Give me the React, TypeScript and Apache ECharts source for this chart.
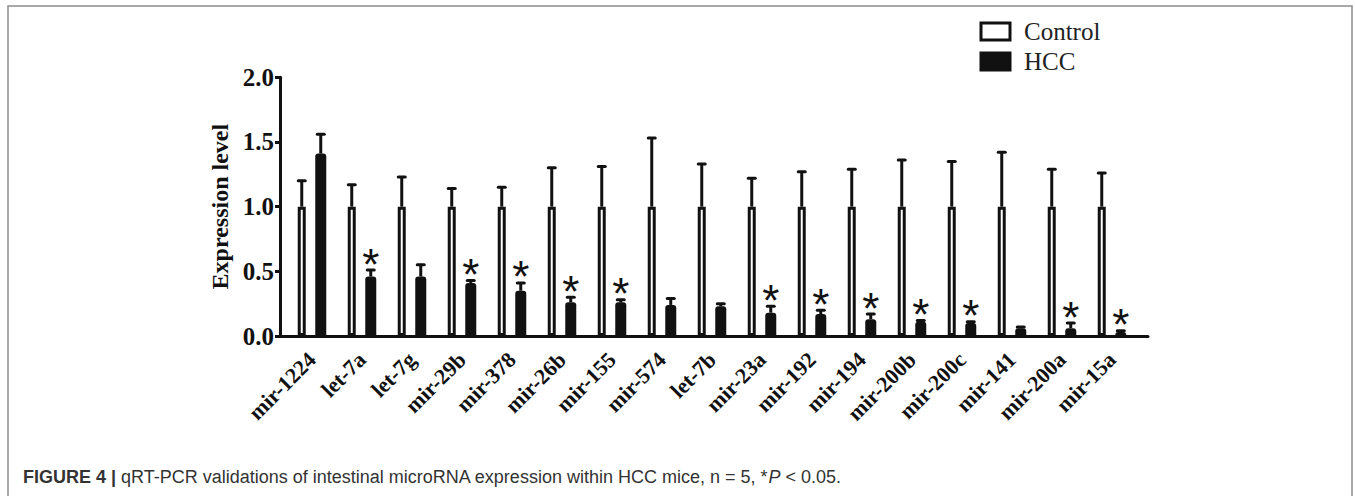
import React, { useEffect, useRef } from "react";
import * as echarts from "echarts";

const categories = [
  "mir-1224", "let-7a", "let-7g", "mir-29b", "mir-378", "mir-26b", "mir-155", "mir-574",
  "let-7b", "mir-23a", "mir-192", "mir-194", "mir-200b", "mir-200c", "mir-141", "mir-200a", "mir-15a",
];
const controlMean = [1, 1, 1, 1, 1, 1, 1, 1, 1, 1, 1, 1, 1, 1, 1, 1, 1];
const controlErr = [0.2, 0.17, 0.23, 0.14, 0.15, 0.3, 0.31, 0.53, 0.33, 0.22, 0.27, 0.29, 0.36, 0.35, 0.42, 0.29, 0.26];
const hccMean = [1.41, 0.46, 0.46, 0.41, 0.35, 0.26, 0.26, 0.24, 0.23, 0.18, 0.17, 0.13, 0.11, 0.1, 0.06, 0.06, 0.03];
const hccErr = [0.15, 0.05, 0.09, 0.02, 0.06, 0.04, 0.02, 0.05, 0.02, 0.05, 0.03, 0.04, 0.01, 0.01, 0.01, 0.04, 0.01];
const hccSignificant = [0, 1, 0, 1, 1, 1, 1, 0, 0, 1, 1, 1, 1, 1, 0, 1, 1];
const controlSignificant = categories.map(() => 0);
const yTicks = { min: 0, max: 2, interval: 0.5 };

const INK = "#111";
const SERIF = "'Liberation Serif', 'Times New Roman', serif";
const SANS = "'Liberation Sans', Arial, sans-serif";

function errorSeries(means: number[], errs: number[], sig: number[], offset: number) {
  return {
    type: "custom",
    z: 4,
    silent: true,
    renderItem: (_params: any, api: any) => {
      const i = api.value(0);
      const m = api.value(1);
      const e = api.value(2);
      const base = api.coord([i, m]);
      const top = api.coord([i, m + e]);
      const x = base[0] + offset;
      const children: any[] = [
        { type: "line", shape: { x1: x, y1: base[1], x2: x, y2: top[1] }, style: { stroke: INK, lineWidth: 3 } },
        {
          type: "line",
          shape: { x1: x - 3.5, y1: top[1], x2: x + 3.5, y2: top[1] },
          style: { stroke: INK, lineWidth: 3, lineCap: "round" },
        },
      ];
      if (api.value(3)) {
        children.push({
          type: "text",
          x,
          y: top[1] - 6,
          style: {
            text: "*",
            font: "44px " + SANS,
            fill: INK,
            align: "center",
            verticalAlign: "middle",
          },
        });
      }
      return { type: "group", children };
    },
    encode: { x: 0, y: 1 },
    data: categories.map((_c, i) => [i, means[i], errs[i], sig[i]]),
  };
}

export default function App() {
  const ref = useRef<HTMLDivElement>(null);
  useEffect(() => {
    if (!ref.current) return;
    const chart = echarts.init(ref.current, null, { renderer: "svg" });
    chart.setOption({
      animation: false,
      backgroundColor: "#fff",
      legend: {
        orient: "vertical",
        left: 979.5,
        top: 19,
        padding: 0,
        icon: "rect",
        itemWidth: 29,
        itemHeight: 17,
        itemGap: 5,
        selectedMode: false,
        textStyle: { fontFamily: SERIF, fontSize: 25, lineHeight: 25, color: "#222", padding: [0, 0, 0, 9] },
        data: [
          { name: "Control", itemStyle: { color: "#fff", borderColor: INK, borderWidth: 3 } },
          { name: "HCC", itemStyle: { color: INK, borderColor: INK, borderWidth: 3 } },
        ],
      },
      grid: [
        { left: 287, right: 218, top: 77.3, bottom: 160 },
        { left: 280, right: 207, top: 77.3, bottom: 160 },
      ],
      xAxis: [
        {
          type: "category",
          gridIndex: 0,
          data: categories,
          axisLine: { lineStyle: { color: INK, width: 3 } },
          axisTick: { alignWithLabel: true, length: 9, lineStyle: { color: INK, width: 3 } },
          axisLabel: {
            interval: 0,
            rotate: 45,
            margin: 20,
            fontFamily: SERIF,
            fontWeight: "bold",
            fontSize: 22,
            color: INK,
          },
        },
        {
          type: "value",
          gridIndex: 1,
          min: 0,
          max: 1,
          axisLine: { show: true, lineStyle: { color: INK, width: 3 } },
          axisTick: { show: false },
          axisLabel: { show: false },
          splitLine: { show: false },
        },
      ],
      yAxis: [
        {
          type: "value",
          gridIndex: 0,
          min: yTicks.min,
          max: yTicks.max,
          interval: yTicks.interval,
          offset: 7,
          name: "Expression level",
          nameLocation: "middle",
          nameGap: 46,
          nameTextStyle: { fontFamily: SERIF, fontWeight: "bold", fontSize: 24, color: INK },
          axisLine: { show: true, lineStyle: { color: INK, width: 3 } },
          axisTick: { show: true, length: 5, lineStyle: { color: INK, width: 3 } },
          axisLabel: {
            fontFamily: SERIF,
            fontWeight: "bold",
            fontSize: 25,
            color: INK,
            margin: 6,
            formatter: (v: number) => v.toFixed(1),
          },
          splitLine: { show: false },
        },
        { type: "value", gridIndex: 1, show: false, min: 0, max: 1 },
      ],
      series: [
        {
          name: "Control",
          type: "bar",
          barWidth: 8,
          barGap: "119%",
          data: controlMean,
          itemStyle: { color: "#fff", borderColor: INK, borderWidth: 3 },
          z: 2,
        },
        {
          name: "HCC",
          type: "bar",
          barWidth: 11,
          data: hccMean,
          itemStyle: { color: INK, borderRadius: [3, 3, 0, 0] },
          z: 2,
        },
        errorSeries(controlMean, controlErr, controlSignificant, -10.25),
        errorSeries(hccMean, hccErr, hccSignificant, 8.75),
      ],
      graphic: [
        {
          type: "rect",
          shape: { x: 8, y: 6, width: 1344, height: 600 },
          style: { fill: "none", stroke: "#8c8c8c", lineWidth: 1.5 },
          silent: true,
        },
        {
          type: "text",
          x: 23,
          y: 477,
          style: {
            text: "{b|FIGURE 4 |} {r|qRT-PCR validations of intestinal microRNA expression within HCC mice, n = 5, *}{i|P}{r| < 0.05.}",
            verticalAlign: "middle",
            rich: {
              b: { fontFamily: SANS, fontWeight: "bold", fontSize: 18, fill: "#333" },
              r: { fontFamily: SANS, fontSize: 18, fill: "#333" },
              i: { fontFamily: SANS, fontStyle: "italic", fontSize: 18, fill: "#333" },
            },
            font: "18px " + SANS,
            fill: "#333",
          },
        },
      ],
    });
    return () => chart.dispose();
  }, []);
  return <div ref={ref} style={{ position: "fixed", left: 0, top: 0, width: 1355, height: 496 }} />;
}
